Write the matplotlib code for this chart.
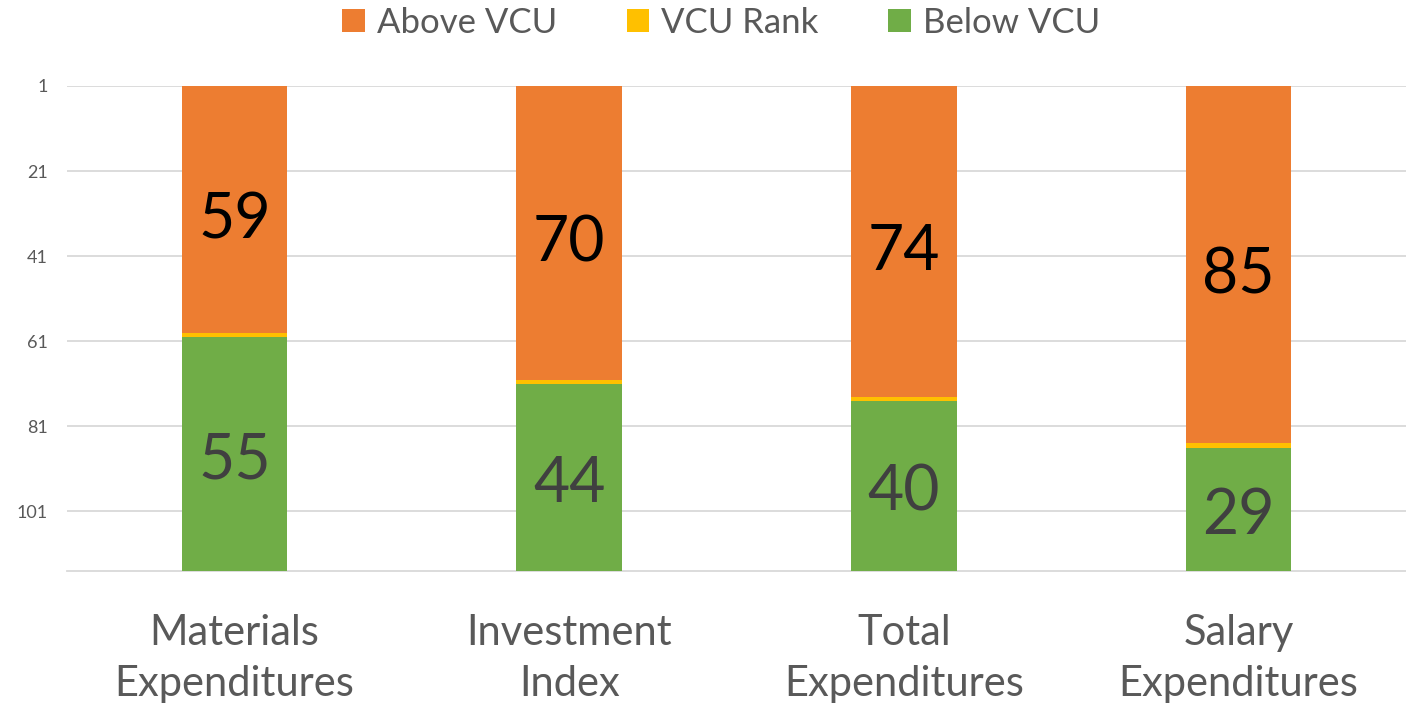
import matplotlib.pyplot as plt
import numpy as np

categories = ["Materials\nExpenditures", "Investment\nIndex", "Total\nExpenditures", "Salary\nExpenditures"]
above_vcu = [59, 70, 74, 85]
vcu_rank = [1, 1, 1, 1]
below_vcu = [55, 44, 40, 29]
yticks = [1, 21, 41, 61, 81, 101]

plt.rcParams["font.family"] = ["Lato", "DejaVu Sans"]

fig = plt.figure(figsize=(14.06, 7.16), dpi=100)
ax = fig.add_axes([0.0477, 0.2025, 0.9523, 0.6774])

x = np.arange(len(categories))
w = 0.315
above = np.array(above_vcu)
rank = np.array(vcu_rank)
below = np.array(below_vcu)

b1 = ax.bar(x, above, w, color="#ED7D31", label="Above VCU", zorder=3)
b2 = ax.bar(x, rank, w, bottom=above, color="#FFC000", label="VCU Rank", zorder=3)
b3 = ax.bar(x, below, w, bottom=above + rank, color="#70AD47", label="Below VCU", zorder=3)

for i in range(len(x)):
    ax.text(x[i], (1 + above[i]) / 2 + 2.5, str(above[i]), ha="center", va="center",
            fontsize=45, color="black", zorder=4)
    mid = above[i] + rank[i] + below[i] / 2
    ax.text(x[i], mid + 1.5, str(below[i]), ha="center", va="center",
            fontsize=45, color="#404040", zorder=4)

ax.set_ylim(115, 1)
ax.set_xlim(-0.5, 3.5)
ax.set_yticks(yticks)
ax.set_yticklabels([str(t) for t in yticks], fontsize=13, color="#595959")
ax.set_xticks(x)
ax.set_xticklabels(categories, fontsize=30, color="#595959", linespacing=1.42)
ax.tick_params(axis="both", length=0)
ax.tick_params(axis="y", pad=14)
ax.tick_params(axis="x", pad=31)
ax.grid(axis="y", color="#d9d9d9", linewidth=1.3, zorder=0)
for s in ["top", "right", "left"]:
    ax.spines[s].set_visible(False)
ax.spines["bottom"].set_color("#d9d9d9")
ax.spines["bottom"].set_linewidth(1.3)

fig.legend(handles=[b1, b2, b3], loc="center", bbox_to_anchor=(0.513, 0.968), ncol=3,
           frameon=False, fontsize=25, labelcolor="#595959", handlelength=0.65,
           handleheight=0.65, handletextpad=0.35, columnspacing=2.0)

fig.savefig("out.png", dpi=100)
